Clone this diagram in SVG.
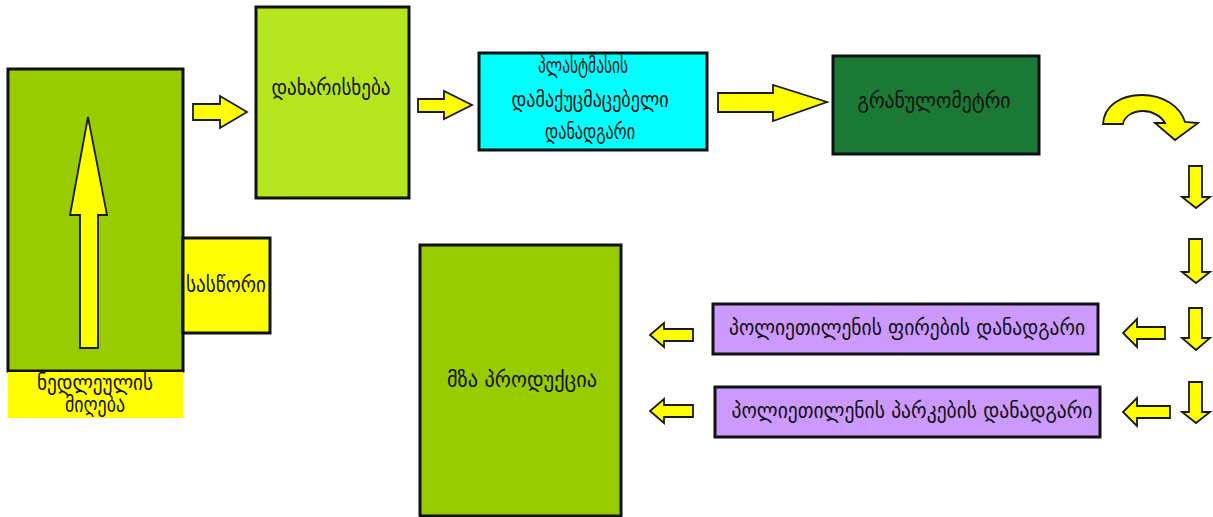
<svg xmlns="http://www.w3.org/2000/svg" width="1213" height="517" viewBox="0 0 1213 517">
  <style>
    .box { stroke: #111; stroke-width: 3; }
    .arrow { fill: #ffff00; stroke: #1a1a1a; stroke-width: 1.8; stroke-linejoin: miter; }
    .lbl { font-family: "DejaVu Sans", "Noto Sans", sans-serif; font-size: 21px; fill: #111; text-anchor: middle; }
  </style>
  <rect width="1213" height="517" fill="#ffffff"/>

  <!-- raw material intake -->
  <g id="intake">
    <rect class="box" x="8" y="69" width="175" height="302" fill="#99cc00"/>
    <path class="arrow" d="M80,348 L80,215 L70,215 L88,117 L107,215 L98,215 L98,348 Z"/>
    <rect x="8" y="372" width="175" height="46" fill="#ffff00"/>
    <text class="lbl" x="95" y="390" textLength="116" lengthAdjust="spacingAndGlyphs">ნედლეულის</text>
    <text class="lbl" x="95" y="412" textLength="60" lengthAdjust="spacingAndGlyphs">მიღება</text>
  </g>

  <!-- scales -->
  <g id="scales">
    <rect class="box" x="183" y="238" width="87" height="95" fill="#ffff00"/>
    <text class="lbl" x="226" y="292" font-size="19" textLength="80" lengthAdjust="spacingAndGlyphs">სასწორი</text>
  </g>

  <!-- sorting -->
  <g id="sorting">
    <rect class="box" x="256" y="7" width="153" height="191" fill="#b5e61d"/>
    <text class="lbl" x="331" y="95" textLength="119" lengthAdjust="spacingAndGlyphs">დახარისხება</text>
  </g>

  <!-- plastic crusher -->
  <g id="crusher">
    <rect class="box" x="479" y="53" width="228" height="97" fill="#00ffff"/>
    <text class="lbl" x="583" y="73" textLength="90" lengthAdjust="spacingAndGlyphs">პლასტმასის</text>
    <text class="lbl" x="590" y="107" textLength="157" lengthAdjust="spacingAndGlyphs">დამაქუცმაცებელი</text>
    <text class="lbl" x="590" y="139" textLength="90" lengthAdjust="spacingAndGlyphs">დანადგარი</text>
  </g>

  <!-- granulometer -->
  <g id="granulometer">
    <rect class="box" x="833" y="56" width="206" height="98" fill="#1a7a35"/>
    <text class="lbl" x="934" y="108" textLength="153" lengthAdjust="spacingAndGlyphs">გრანულომეტრი</text>
  </g>

  <!-- polyethylene film unit -->
  <g id="film-unit">
    <rect class="box" x="713" y="304" width="385" height="50" fill="#cc99ff"/>
    <text class="lbl" x="907" y="335" textLength="356" lengthAdjust="spacingAndGlyphs">პოლიეთილენის ფირების დანადგარი</text>
  </g>

  <!-- polyethylene bag unit -->
  <g id="bag-unit">
    <rect class="box" x="715" y="387" width="385" height="50" fill="#cc99ff"/>
    <text class="lbl" x="912" y="418" textLength="361" lengthAdjust="spacingAndGlyphs">პოლიეთილენის პარკების დანადგარი</text>
  </g>

  <!-- finished product -->
  <g id="product">
    <rect class="box" x="420" y="245" width="201" height="271" fill="#99cc00"/>
    <text class="lbl" x="522" y="387" textLength="150" lengthAdjust="spacingAndGlyphs">მზა პროდუქცია</text>
  </g>

  <!-- flow arrows -->
  <g id="connectors">
    <path class="arrow" d="M193,104 L220,104 L220,96 L247,112 L220,128 L220,120 L193,120 Z"/>
    <path class="arrow" d="M418,99 L444,99 L444,91 L472,105 L444,119 L444,112 L418,112 Z"/>
    <path class="arrow" d="M718,93 L773,93 L773,85 L827,102 L773,121 L773,112 L718,112 Z"/>
    <path class="arrow" d="M1103,124 C1104,106 1120,95 1142,95 C1163,95 1180,106 1185,122 L1198,123 L1175,140 L1155,123 L1165,123 C1161,116 1152,111 1143,111 C1132,111 1124,117 1123,124 Z"/>
    <path class="arrow" d="M1189,166 L1202,166 L1202,197 L1210,197 L1196,208 L1182,197 L1189,197 Z"/>
    <path class="arrow" d="M1189,239 L1202,239 L1202,272 L1210,272 L1196,283 L1182,272 L1189,272 Z"/>
    <path class="arrow" d="M1189,308 L1202,308 L1202,338 L1210,338 L1196,350 L1182,338 L1189,338 Z"/>
    <path class="arrow" d="M1189,382 L1202,382 L1202,412 L1210,412 L1196,423 L1182,412 L1189,412 Z"/>
    <path class="arrow" d="M1165,327 L1137,327 L1137,319 L1123,333 L1137,347 L1137,339 L1165,339 Z"/>
    <path class="arrow" d="M1170,406 L1137,406 L1137,398 L1123,412 L1137,426 L1137,418 L1170,418 Z"/>
    <path class="arrow" d="M693,329 L664,329 L664,323 L650,335 L664,347 L664,341 L693,341 Z"/>
    <path class="arrow" d="M693,405 L664,405 L664,399 L650,411 L664,423 L664,417 L693,417 Z"/>
  </g>
</svg>
